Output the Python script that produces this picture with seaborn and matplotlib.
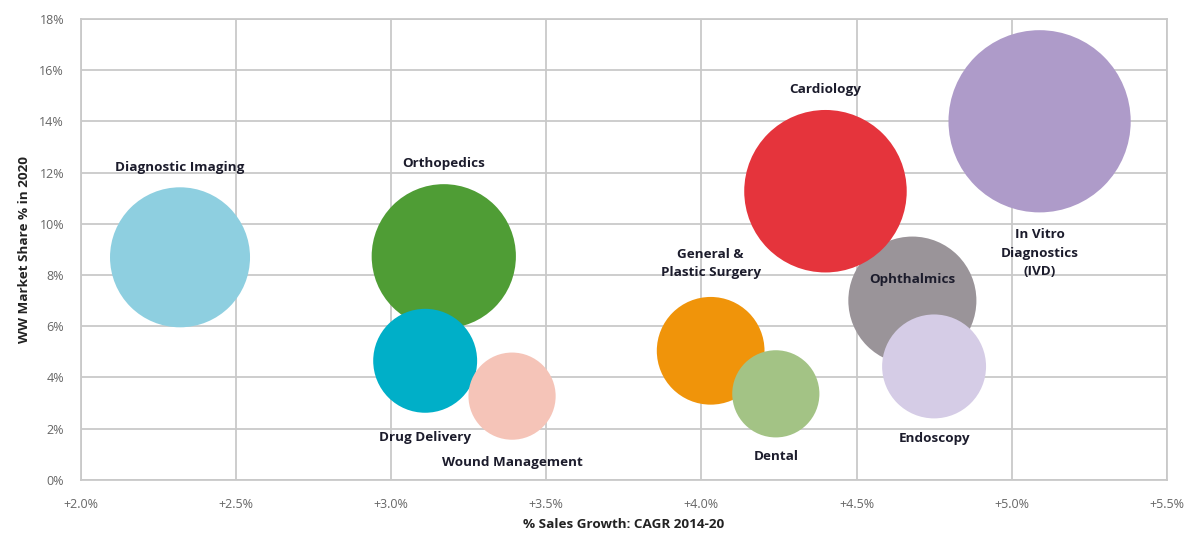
import matplotlib
matplotlib.use('Agg')

import matplotlib.pyplot as plt
import matplotlib.ticker as mticker
import numpy as np
import pandas as pd
import seaborn as sns


# Data (listed in drawing order, back to front)
segments = ['Diagnostic Imaging', 'Orthopedics', 'Drug Delivery', 'Wound Management',
            'Ophthalmics', 'Cardiology', 'Endoscopy', 'General &\nPlastic Surgery',
            'Dental', 'In Vitro\nDiagnostics\n(IVD)']
sales_growth = [2.32, 3.17, 3.11, 3.39, 4.68, 4.40, 4.75, 4.03, 4.24, 5.09]    # CAGR 2014-20, %
market_share = [8.69, 8.73, 4.65, 3.27, 7.00, 11.27, 4.43, 5.04, 3.36, 14.0]   # WW share 2020, %
bubble_value = [49, 52, 27, 19, 41, 66, 27, 29, 19, 83]                        # relative bubble area

colors = ['#8ecfe0', '#4f9d35', '#00afc8', '#f5c4b8', '#9a9499',
          '#e5343c', '#d5cce6', '#f0940a', '#a3c385', '#ae9bc9']
# vertical label offsets (points, + is up)
label_dy = [65, 67, -55, -48, 15, 73, -52, 63, -45, -95]

x_ticks = [2.0, 2.5, 3.0, 3.5, 4.0, 4.5, 5.0, 5.5]
y_ticks = [0, 2, 4, 6, 8, 10, 12, 14, 16, 18]

df = pd.DataFrame({'segment': segments, 'growth': sales_growth,
                   'share': market_share, 'size': bubble_value})

sns.set_style('white')
plt.rcParams['font.family'] = ['Open Sans', 'DejaVu Sans']

fig = plt.figure(figsize=(11.87, 5.38), dpi=100)
ax = fig.add_axes([0.068, 0.108, 0.915, 0.857])

# area scale: 1 unit -> ~207 pt^2
k = 207.4
vmin, vmax = min(bubble_value), max(bubble_value)
sns.scatterplot(data=df, x='growth', y='share', hue='segment', size='size',
                palette=dict(zip(segments, colors)), sizes=(k * vmin, k * vmax),
                size_norm=(vmin, vmax), linewidth=0, alpha=1, legend=False,
                ax=ax, zorder=3)

for i, row in df.iterrows():
    ax.annotate(row['segment'], (row['growth'], row['share']),
                xytext=(0, label_dy[i]), textcoords='offset points',
                ha='center', va='center', fontsize=9.7, fontweight='bold',
                color='#1c1c2c', linespacing=1.55, zorder=5)

ax.set_xlim(2.0, 5.5)
ax.set_ylim(0, 18)
ax.set_xticks(x_ticks)
ax.set_yticks(y_ticks)
ax.xaxis.set_major_formatter(mticker.FuncFormatter(lambda v, p: '+%.1f%%' % v))
ax.yaxis.set_major_formatter(mticker.FuncFormatter(lambda v, p: '%d%%' % v))
ax.grid(True, color='#c9c9c9', linewidth=1.3, zorder=0)
ax.set_axisbelow(True)
for s in ax.spines.values():
    s.set_color('#c9c9c9')
    s.set_linewidth(1.3)

ax.tick_params(axis='y', length=9, width=1.3, color='#c9c9c9', labelsize=9,
               labelcolor='#666666', pad=3)
ax.tick_params(axis='x', length=0, labelsize=9, labelcolor='#666666', pad=13)

ax.set_xlabel('% Sales Growth: CAGR 2014-20', fontsize=9.7, fontweight='bold',
              color='#222222', labelpad=5)
ax.set_ylabel('WW Market Share % in 2020', fontsize=9.7, fontweight='bold',
              color='#222222', labelpad=6)

fig.savefig('out.png', dpi=100)
plt.close(fig)
